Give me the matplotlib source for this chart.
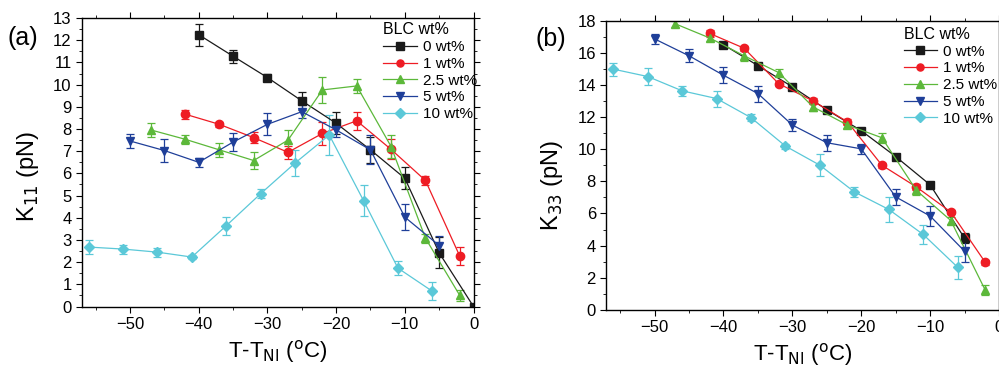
import matplotlib
matplotlib.use("Agg")
import matplotlib.pyplot as plt
from matplotlib.ticker import MultipleLocator

plt.rcParams['font.family'] = ['Liberation Sans', 'DejaVu Sans']

labels = ["0 wt%", "1 wt%", "2.5 wt%", "5 wt%", "10 wt%"]
colors = ["#1a1a1a", "#ee1c24", "#5cb83a", "#1f3f99", "#5bc8d8"]
markers = ["s", "o", "^", "v", "D"]

# (a) K11
x0_a = [-40, -35, -30, -25, -20, -15, -10, -5, 0]
k11_0 = [12.25, 11.28, 10.32, 9.27, 8.26, 7.06, 5.78, 2.42, 0.0]
e11_0 = [0.5, 0.3, 0.15, 0.4, 0.5, 0.6, 0.5, 0.7, 0.0]
x1_a = [-42, -37, -32, -27, -22, -17, -12, -7, -2]
k11_1 = [8.67, 8.21, 7.61, 6.95, 7.8, 8.37, 7.08, 5.68, 2.27]
e11_1 = [0.2, 0.1, 0.25, 0.3, 0.5, 0.4, 0.45, 0.2, 0.4]
x2_a = [-47, -42, -37, -32, -27, -22, -17, -12, -7, -2]
k11_2 = [7.96, 7.54, 7.06, 6.58, 7.5, 9.76, 9.94, 7.21, 3.08, 0.5]
e11_2 = [0.3, 0.2, 0.3, 0.4, 0.45, 0.6, 0.3, 0.5, 0.2, 0.25]
x3_a = [-50, -45, -40, -35, -30, -25, -20, -15, -10, -5]
k11_3 = [7.46, 7.03, 6.5, 7.41, 8.21, 8.78, 7.96, 7.06, 4.03, 2.75]
e11_3 = [0.3, 0.5, 0.2, 0.4, 0.5, 0.3, 0.3, 0.65, 0.6, 0.45]
x4_a = [-56, -51, -46, -41, -36, -31, -26, -21, -16, -11, -6]
k11_4 = [2.68, 2.59, 2.45, 2.23, 3.64, 5.08, 6.46, 7.73, 4.77, 1.73, 0.69]
e11_4 = [0.3, 0.2, 0.2, 0.1, 0.4, 0.2, 0.6, 0.9, 0.7, 0.3, 0.4]

# (b) K33
x0_b = [-40, -35, -30, -25, -20, -15, -10, -5]
k33_0 = [16.5, 15.2, 13.88, 12.45, 11.15, 9.54, 7.78, 4.46]
e33_0 = [0.15, 0.15, 0.15, 0.15, 0.15, 0.15, 0.15, 0.3]
x1_b = [-42, -37, -32, -27, -22, -17, -12, -7, -2]
k33_1 = [17.2, 16.28, 14.08, 13.0, 11.7, 9.0, 7.65, 6.09, 2.96]
e33_1 = [0.2, 0.15, 0.15, 0.2, 0.2, 0.15, 0.2, 0.15, 0.15]
x2_b = [-47, -42, -37, -32, -27, -22, -17, -12, -7, -2]
k33_2 = [17.8, 16.92, 15.81, 14.77, 12.63, 11.5, 10.71, 7.44, 5.56, 1.23]
e33_2 = [0.2, 0.2, 0.35, 0.2, 0.25, 0.2, 0.3, 0.3, 0.2, 0.3]
x3_b = [-50, -45, -40, -35, -30, -25, -20, -15, -10, -5]
k33_3 = [16.86, 15.81, 14.6, 13.46, 11.5, 10.4, 10.02, 7.03, 5.84, 3.65]
e33_3 = [0.3, 0.4, 0.5, 0.5, 0.4, 0.5, 0.3, 0.5, 0.6, 0.7]
x4_b = [-56, -51, -46, -41, -36, -31, -26, -21, -16, -11, -6]
k33_4 = [14.98, 14.52, 13.63, 13.15, 11.96, 10.19, 9.0, 7.34, 6.25, 4.69, 2.65]
e33_4 = [0.4, 0.5, 0.3, 0.5, 0.2, 0.15, 0.7, 0.3, 0.8, 0.6, 0.7]

data_a = [(x0_a, k11_0, e11_0), (x1_a, k11_1, e11_1), (x2_a, k11_2, e11_2),
          (x3_a, k11_3, e11_3), (x4_a, k11_4, e11_4)]
data_b = [(x0_b, k33_0, e33_0), (x1_b, k33_1, e33_1), (x2_b, k33_2, e33_2),
          (x3_b, k33_3, e33_3), (x4_b, k33_4, e33_4)]

fig = plt.figure(figsize=(9.99, 3.68), dpi=100)
ax1 = fig.add_axes([0.082, 0.167, 0.392, 0.784])
ax2 = fig.add_axes([0.607, 0.158, 0.393, 0.786])


def draw(ax, data, ylim, ymaj, ymin, ylabel, leg_xy, ylab_y):
    handles = []
    for (x, y, e), c, m in zip(data, colors, markers):
        eb = ax.errorbar(x, y, yerr=e, color=c, marker=m,
                         markersize=6 if m != "D" else 5.5,
                         lw=0.9, elinewidth=0.9, capsize=3, capthick=0.9)
        handles.append(eb[0])
    ax.set_xlim(-57, 0)
    ax.set_ylim(*ylim)
    ax.xaxis.set_major_locator(MultipleLocator(10))
    ax.xaxis.set_minor_locator(MultipleLocator(5))
    ax.yaxis.set_major_locator(MultipleLocator(ymaj))
    ax.yaxis.set_minor_locator(MultipleLocator(ymin))
    ax.tick_params(which="both", direction="out", top=True, right=True, labelsize=12)
    ax.tick_params(which="major", length=4)
    ax.tick_params(which="minor", length=2.5)
    for s in ax.spines.values():
        s.set_linewidth(1.0)
    ax.set_xlabel("T-T$_{\\rm NI}$ ($^{\\rm o}$C)", fontsize=16)
    ax.set_ylabel(ylabel, fontsize=17)
    ax.yaxis.set_label_coords(-0.105, ylab_y)
    leg = ax.legend(handles, labels, title="BLC wt%", loc="upper left",
                    bbox_to_anchor=leg_xy, frameon=False, fontsize=11,
                    title_fontsize=11.5, handlelength=2.2, handletextpad=0.4,
                    labelspacing=0.18, borderaxespad=0, borderpad=0,
                    markerscale=0.85)
    leg._legend_box.align = "left"


draw(ax1, data_a, (0, 13), 1, 0.5, "K$_{11}$ (pN)", (0.769, 0.985), 0.45)
draw(ax2, data_b, (0, 18), 2, 1, "K$_{33}$ (pN)", (0.757, 0.978), 0.43)

fig.text(0.008, 0.898, "(a)", fontsize=18, va="center")
fig.text(0.536, 0.895, "(b)", fontsize=18, va="center")

fig.savefig("out.png", dpi=100)
